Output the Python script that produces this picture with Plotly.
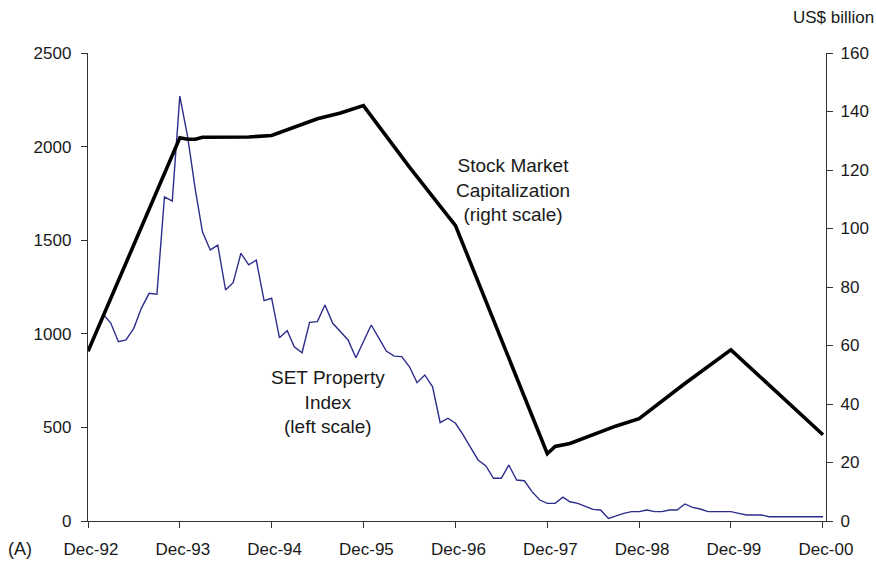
import pandas as pd
import plotly.graph_objects as go

# SET Property Index (left scale), monthly Feb-93 .. Dec-00
set_index = [
    1100, 1059, 958, 967, 1029, 1136, 1216, 1211, 1732, 1709, 2270,          # 1993 Feb-Dec
    2053, 1768, 1545, 1448, 1474, 1234, 1273, 1430, 1368, 1394, 1177, 1190,  # 1994
    979, 1017, 931, 899, 1061, 1065, 1154, 1056, 1011, 967, 872, 958,        # 1995
    1047, 976, 908, 881, 878, 824, 739, 780, 717, 525, 549, 522,             # 1996
    459, 388, 326, 294, 228, 228, 299, 219, 215, 157, 112, 94,               # 1997
    94, 127, 103, 94, 78, 62, 59, 14, 27, 41, 50, 50,                        # 1998
    59, 50, 50, 59, 59, 91, 73, 64, 50, 50, 50, 50,                          # 1999
    41, 32, 32, 32, 23, 23, 23, 23, 23, 23, 23, 23,                          # 2000
]
set_dates = pd.date_range("1993-02-01", periods=len(set_index), freq="MS")

# Stock market capitalization (right scale, US$ billion)
cap_dates = ["1992-12-01", "1993-12-01", "1994-01-01", "1994-02-01", "1994-03-01",
             "1994-06-01", "1994-09-01", "1994-12-01", "1995-03-01", "1995-06-01",
             "1995-09-01", "1995-11-01", "1995-12-01", "1996-06-01", "1996-12-01",
             "1997-12-01", "1998-01-01", "1998-03-01", "1998-06-01", "1998-09-01",
             "1998-12-01", "1999-06-01", "1999-12-01", "2000-06-01", "2000-12-01"]
cap_values = [58, 131, 130.5, 130.5, 131.2,
              131.2, 131.3, 131.8, 134.5, 137.5,
              139.5, 141, 142, 121, 101,
              23, 25.5, 26.5, 29.5, 32.5,
              35, 47, 58.5, 44, 29.5]

# Axis ticks
x_tick_dates = ["1992-12-01", "1993-12-01", "1994-12-01", "1995-12-01", "1996-12-01",
                "1997-12-01", "1998-12-01", "1999-12-01", "2000-12-01"]
x_tick_labels = ["Dec-92", "Dec-93", "Dec-94", "Dec-95", "Dec-96",
                 "Dec-97", "Dec-98", "Dec-99", "Dec-00"]
left_ticks = [0, 500, 1000, 1500, 2000, 2500]
right_ticks = [0, 20, 40, 60, 80, 100, 120, 140, 160]

FONT = "Liberation Sans, Arial, sans-serif"
TXT = "#1a1a1a"
AX = "#333333"

fig = go.Figure()
fig.add_trace(go.Scatter(x=set_dates, y=set_index, mode="lines",
                         line=dict(color="#2d2d8c", width=1.4),
                         yaxis="y", showlegend=False))
fig.add_trace(go.Scatter(x=cap_dates, y=cap_values, mode="lines",
                         line=dict(color="#000000", width=3.6),
                         yaxis="y2", showlegend=False))

fig.update_layout(
    width=876, height=561,
    margin=dict(l=88, r=50, t=53, b=40, pad=0, autoexpand=False),
    paper_bgcolor="white", plot_bgcolor="white",
    font=dict(family=FONT, size=17, color=TXT),
    xaxis=dict(type="date", range=["1992-12-01", "2000-12-13"],
               tickvals=x_tick_dates, ticktext=x_tick_labels,
               showgrid=False, zeroline=False, showline=True,
               linecolor=AX, linewidth=1.3, ticks="outside", ticklen=6,
               tickcolor=AX, tickwidth=1.3, tickfont=dict(size=17),
               ticklabelstandoff=6, ticklabelshift=3, automargin=False),
    yaxis=dict(range=[0, 2500], tickvals=left_ticks,
               showgrid=False, zeroline=False, showline=True,
               linecolor=AX, linewidth=1.3, ticks="outside", ticklen=6,
               tickcolor=AX, tickwidth=1.3, tickfont=dict(size=17),
               ticklabelstandoff=6, automargin=False),
    yaxis2=dict(range=[0, 160], tickvals=right_ticks, overlaying="y", side="right",
                showgrid=False, zeroline=False, showline=True,
                linecolor=AX, linewidth=1.3, ticks="outside", ticklen=6,
                tickcolor=AX, tickwidth=1.3, tickfont=dict(size=17),
                ticklabelstandoff=4, automargin=False),
    annotations=[
        dict(text="Stock Market<br>Capitalization<br>(right scale)",
             xref="paper", yref="paper", x=0.5759, y=0.7073,
             xanchor="center", yanchor="middle", showarrow=False,
             font=dict(size=19, color=TXT)),
        dict(text="SET Property<br>Index<br>(left scale)",
             xref="paper", yref="paper", x=0.3252, y=0.2543,
             xanchor="center", yanchor="middle", showarrow=False,
             font=dict(size=19, color=TXT)),
        dict(text="US$ billion", xref="paper", yref="paper",
             x=1.0095, y=1.0748, xanchor="center", yanchor="middle",
             showarrow=False, font=dict(size=17, color=TXT)),
        dict(text="(A)", xref="paper", yref="paper",
             x=-0.092, y=-0.0598, xanchor="center", yanchor="middle",
             showarrow=False, font=dict(size=18, color=TXT)),
    ],
)

fig.write_html("out.html",
               config={"displayModeBar": False},
               post_script="document.body.style.margin='0';document.body.style.overflow='hidden';")
